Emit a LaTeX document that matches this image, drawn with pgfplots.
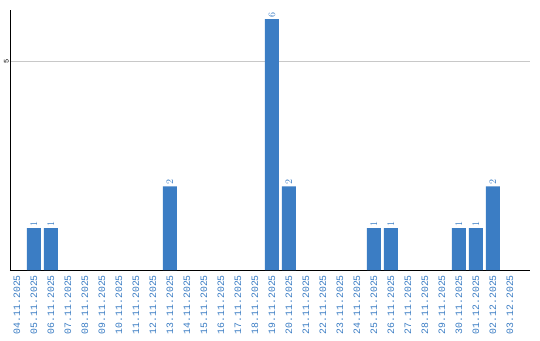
\documentclass[border=0pt]{standalone}
\usepackage{pgfplots}
\pgfplotsset{compat=1.18}
\usepackage{fontspec}
\setmainfont{Liberation Sans}
\newfontfamily\labfont{Liberation Mono}
\definecolor{barblue}{HTML}{3B7DC4}
\definecolor{gridgray}{HTML}{C8C8C8}
\begin{document}
\begin{tikzpicture}
\path[use as bounding box] (-10pt,-70pt) rectangle (530pt,270pt);
\begin{axis}[
  at={(0pt,0pt)}, anchor=south west,
  scale only axis, width=520pt, height=260pt,
  xmin=-0.41, xmax=30.18, ymin=0, ymax=6.22,
  axis x line=bottom, axis y line=left,
  axis line style={-, black, line width=0.8pt},
  xtick={0,...,29},
  xticklabels={04.11.2025,05.11.2025,06.11.2025,07.11.2025,08.11.2025,09.11.2025,10.11.2025,11.11.2025,12.11.2025,13.11.2025,14.11.2025,15.11.2025,16.11.2025,17.11.2025,18.11.2025,19.11.2025,20.11.2025,21.11.2025,22.11.2025,23.11.2025,24.11.2025,25.11.2025,26.11.2025,27.11.2025,28.11.2025,29.11.2025,30.11.2025,01.12.2025,02.12.2025,03.12.2025},
  x tick label style={rotate=90, anchor=east, font=\labfont\fontsize{9.8}{10}\selectfont, text=barblue, inner sep=0pt, xshift=0pt, yshift=0pt},
  xticklabel shift=5pt,
  ytick={5}, yticklabels={5},
  y tick label style={rotate=90, anchor=south, font=\labfont\fontsize{7}{8}\selectfont, text=black, inner sep=1pt},
  major tick length=0pt,
  ymajorgrids, grid style={gridgray, line width=0.6pt},
  xmajorgrids=false,
  clip=false,
]
\addplot[ybar, bar width=14pt, fill=barblue, draw=none,
  nodes near coords,
  nodes near coords style={rotate=90, anchor=west, font=\labfont\fontsize{9.8}{10}\selectfont, text=barblue, inner sep=1.5pt}]
  coordinates {(1,1) (2,1) (9,2) (15,6) (16,2) (21,1) (22,1) (26,1) (27,1) (28,2)};
\end{axis}
\end{tikzpicture}
\end{document}
